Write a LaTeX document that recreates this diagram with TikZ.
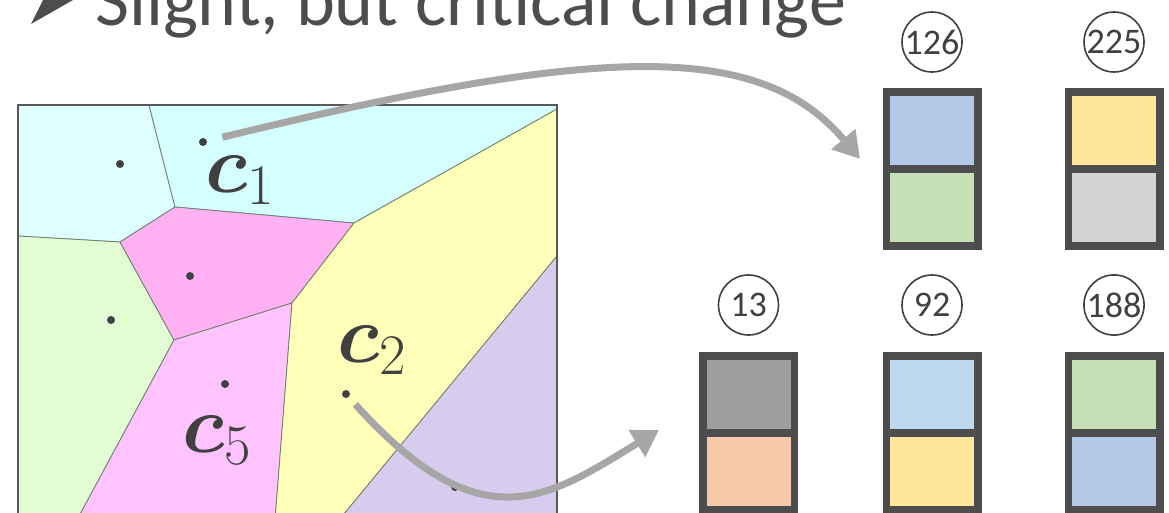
\documentclass[tikz,border=0pt]{standalone}
\usepackage{fix-cm}
\usepackage{amsmath,bm}
\usepackage{fontspec}
\newfontfamily\calibri{Carlito}
\usetikzlibrary{arrows.meta}
\definecolor{boxc}{HTML}{4D4D4D}
\definecolor{numc}{HTML}{404040}
\definecolor{dotc}{HTML}{404040}
\definecolor{labc}{HTML}{404040}
\definecolor{titlec}{HTML}{4D4D4D}
\definecolor{arrc}{HTML}{A6A6A6}
\definecolor{edgec}{HTML}{6E7F6E}
\definecolor{framec}{HTML}{595959}
\definecolor{cyanA}{HTML}{DFFFFF}
\definecolor{cyanB}{HTML}{D5FFFF}
\definecolor{greenV}{HTML}{E2FCD4}
\definecolor{magV}{HTML}{FFB1F3}
\definecolor{pinkV}{HTML}{FFC4FF}
\definecolor{yellowV}{HTML}{FFFFBA}
\definecolor{purpleV}{HTML}{D8CCEE}
\definecolor{blueA}{HTML}{B4C7E7}
\definecolor{greenA}{HTML}{C5E0B4}
\definecolor{goldA}{HTML}{FFE699}
\definecolor{grayL}{HTML}{D3D3D3}
\definecolor{grayD}{HTML}{A09F9E}
\definecolor{orangeA}{HTML}{F6C9AB}
\definecolor{blueL}{HTML}{BDD7EE}
\begin{document}
\begin{tikzpicture}[x=1pt,y=-1pt,
  cellline/.style={draw=edgec, line width=0.8pt},
  seed/.style={circle, fill=dotc, inner sep=0pt, outer sep=0pt, minimum size=8pt},
  part/.style={draw=boxc, line width=7.5pt, minimum width=91.5pt, minimum height=77pt, inner sep=0pt, outer sep=0pt, anchor=north},
  num/.style={circle, draw=numc, line width=1.6pt, minimum size=60pt, inner sep=0pt, font=\calibri\fontsize{36}{36}\selectfont, text=numc},
  link/.style={draw=arrc, line width=7pt, -{Triangle[length=26pt,width=30pt]}},
  clab/.style={font=\fontsize{82}{82}\selectfont, text=labc, anchor=base west, inner sep=0pt}
]
\useasboundingbox (0,0) rectangle (1169,512);

% title
\fill[titlec] (31,24) -- (43,0) -- (73,0) -- cycle;
\node[anchor=base west, font=\calibri\fontsize{74}{80}\selectfont, text=titlec, inner sep=0pt] (title) at (95,25) {Slight, but critical change};

% Voronoi cells
\begin{scope}
\clip (18,105) rectangle (557,512);
\path[fill=cyanA, cellline] (18,105) -- (149,105) -- (175,207) -- (120,242) -- (18,236) -- cycle;
\path[fill=cyanB, cellline] (149,105) -- (557,105) -- (557,109) -- (354,223) -- (175,207) -- cycle;
\path[fill=greenV, cellline] (18,236) -- (120,242) -- (174,340) -- (77,520) -- (18,520) -- cycle;
\path[fill=magV, cellline] (175,207) -- (354,223) -- (292,303) -- (174,340) -- (120,242) -- cycle;
\path[fill=pinkV, cellline] (174,340) -- (292,303) -- (275,520) -- (77,520) -- cycle;
\path[fill=yellowV, cellline] (354,223) -- (557,109) -- (557,256) -- (339,520) -- (275,520) -- (292,303) -- cycle;
\path[fill=purpleV, cellline] (557,256) -- (557,520) -- (339,520) -- cycle;
\end{scope}
\draw[framec, line width=2pt] (18,520) -- (18,105) -- (557,105) -- (557,520);

% seeds
\node[seed] (d1) at (120,164) {};
\node[seed] (c1) at (203,142) {};
\node[seed] (d3) at (190,276) {};
\node[seed] (d4) at (111,320) {};
\node[seed] (c5) at (225,384) {};
\node[seed] (c2) at (346,394) {};
\node[seed] (d7) at (455,487) {};

% labels
\node[clab] (l1) at (205,192) {$\boldsymbol{c}_{1}$};
\node[clab] (l2) at (337,362) {$\boldsymbol{c}_{2}$};
\node[clab] (l5) at (182,452) {$\boldsymbol{c}_{5}$};

% code boxes
\node[num] (n126) at (932,42) {126};
\node[num] (n225) at (1114,42) {225};
\node[num] (n13) at (748.5,305) {13};
\node[num] (n92) at (932,305) {92};
\node[num] (n188) at (1114,305) {188};

\node[part, fill=blueA] (b126a) at (932,91.75) {};
\node[part, fill=greenA] (b126b) at (b126a.south) {};
\node[part, fill=goldA] (b225a) at (1114,91.75) {};
\node[part, fill=grayL] (b225b) at (b225a.south) {};
\node[part, fill=grayD] (b13a) at (748.5,355.75) {};
\node[part, fill=orangeA] (b13b) at (b13a.south) {};
\node[part, fill=blueL] (b92a) at (932,355.75) {};
\node[part, fill=goldA] (b92b) at (b92a.south) {};
\node[part, fill=greenA] (b188a) at (1114,355.75) {};
\node[part, fill=blueA] (b188b) at (b188a.south) {};

% arrows
\coordinate (a1e) at (860,159);
\coordinate (a2e) at (659,430);
\draw[link, shorten <=16pt] (c1) .. controls (600,45) and (760,40) .. (a1e);
\draw[link, shorten <=10pt] (c2) .. controls (482,545) and (548,498) .. (a2e);
\end{tikzpicture}
\end{document}
